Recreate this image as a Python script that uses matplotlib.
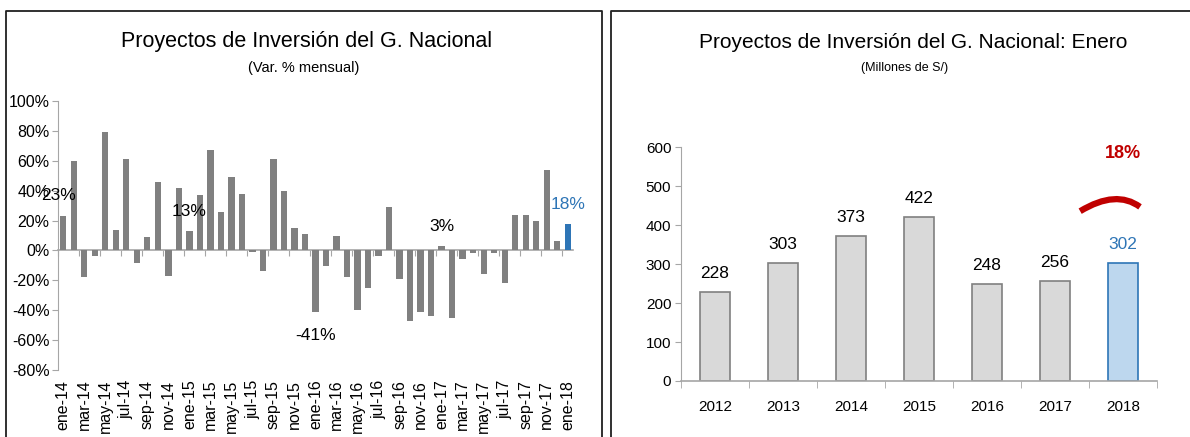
import matplotlib
matplotlib.use("Agg")
import matplotlib.pyplot as plt
from matplotlib.patches import PathPatch
from matplotlib.path import Path
from matplotlib.lines import Line2D
import numpy as np

plt.rcParams['font.family'] = ['Liberation Sans Narrow', 'Liberation Sans', 'DejaVu Sans']

# ---------------- data ----------------
months = ["ene", "feb", "mar", "abr", "may", "jun", "jul", "ago", "sep", "oct", "nov", "dic"]
years_m = ["14", "15", "16", "17"]
month_labels = [f"{m}-{y}" for y in years_m for m in months] + ["ene-18"]

var_mensual = [23, 60, -18, -4, 79, 14, 61, -8.5, 9, 46, -17, 42,
               13, 37, 67, 26, 49, 38, -1, -14, 61, 40, 15, 11,
               -41, -10.5, 10, -18, -40, -25, -3.5, 29, -19, -47.5, -41, -44,
               3, -45, -6, -2, -16, -1.5, -22, 24, 24, 20, 54, 6,
               18]
highlight_idx = [0, 12, 24, 36, 48]
highlight_txt = ["23%", "13%", "-41%", "3%", "18%"]
highlight_y = [37, 26, -57, 16, 31]

years = ["2012", "2013", "2014", "2015", "2016", "2017", "2018"]
enero = [228, 303, 373, 422, 248, 256, 302]

GRAY = "#808080"
BLUE = "#2E75B6"
AXC = "#A6A6A6"

fig = plt.figure(figsize=(11.90, 4.37), dpi=100)
W, H = 1190, 437

def fx(px):
    return px / W

def fy(py):
    return 1 - py / H

# panel borders
fig.add_artist(Line2D([fx(6), fx(6), fx(602), fx(602)], [0, fy(11), fy(11), 0],
                      color="#202020", lw=1.3, transform=fig.transFigure))
fig.add_artist(Line2D([fx(611), fx(611), 1.0], [0, fy(11), fy(11)],
                      color="#202020", lw=1.3, transform=fig.transFigure))

# ---------------- left chart ----------------
ax1 = fig.add_axes([fx(58), fy(370), fx(573 - 58), (370 - 101) / H])
x = np.arange(len(var_mensual))
colors = [GRAY] * (len(var_mensual) - 1) + [BLUE]
ax1.bar(x, var_mensual, width=0.6, color=colors)
ax1.set_xlim(-0.5, len(var_mensual) - 0.5)
ax1.set_ylim(-80, 100)
ax1.set_yticks(np.arange(-80, 101, 20))
ax1.set_yticklabels([f"{v}%" for v in range(-80, 101, 20)], fontsize=11.5)
ax1.tick_params(axis='y', direction='out', length=4, color=AXC, pad=2)
ax1.set_xticks(x[::2])
ax1.set_xticklabels(month_labels[::2], rotation=90, fontsize=11.5)
ax1.tick_params(axis='x', length=0, pad=7)
for s in ["top", "right", "bottom"]:
    ax1.spines[s].set_visible(False)
ax1.spines["left"].set_color(AXC)
sec = ax1.secondary_xaxis(80 / 180)
sec.set_xticks(np.arange(-0.5, len(var_mensual), 2))
sec.set_xticklabels([])
sec.tick_params(axis='x', direction='out', length=4, color=AXC)
sec.spines["bottom"].set_color(AXC)
sec.spines["bottom"].set_linewidth(1.2)

for i, t, yy in zip(highlight_idx, highlight_txt, highlight_y):
    xx = i if i > 0 else -0.5
    c = BLUE if i == len(var_mensual) - 1 else "black"
    ax1.text(xx, yy, t, ha="center", va="center", fontsize=12.5, color=c)

fig.text(fx(307), fy(42), "Proyectos de Inversión del G. Nacional",
         ha="center", va="center", fontsize=15.5)
fig.text(fx(304), fy(68), "(Var. % mensual)", ha="center", va="center", fontsize=10.5)

# ---------------- right chart ----------------
ax2 = fig.add_axes([fx(681), fy(381), fx(1157 - 681), (381 - 147.3) / H])
xr = np.arange(len(years))
fc = ["#D9D9D9"] * (len(years) - 1) + ["#BDD7EE"]
ec = [GRAY] * (len(years) - 1) + [BLUE]
ax2.bar(xr, enero, width=0.43, color=fc, edgecolor=ec, linewidth=1.2)
ax2.set_xlim(-0.5, len(years) - 0.5)
ax2.set_ylim(0, 600)
ax2.set_yticks(np.arange(0, 601, 100))
ax2.tick_params(axis='y', labelsize=11, direction='out', length=4, color=AXC, pad=3)
ax2.set_xticks(xr)
ax2.set_xticklabels(years, fontsize=11)
ax2.tick_params(axis='x', length=0, pad=14)
ax2.set_xticks(np.arange(-0.5, len(years), 1), minor=True)
ax2.tick_params(axis='x', which='minor', direction='out', length=5, color=AXC)
for s in ["top", "right"]:
    ax2.spines[s].set_visible(False)
ax2.spines["left"].set_color(AXC)
ax2.spines["bottom"].set_color(AXC)
ax2.spines["bottom"].set_linewidth(1.2)

for i, v in enumerate(enero):
    c = BLUE if i == len(enero) - 1 else "black"
    ax2.annotate(f"{v}", (i, v), xytext=(0, 8), textcoords="offset points",
                 ha="center", va="bottom", fontsize=12.5, color=c)

# growth arc and label
p0 = (len(years) - 2 + 0.37, enero[-2] + 180)
p1 = (len(years) - 2 + 0.9, enero[-2] + 236)
p2 = (len(years) - 1 + 0.25, enero[-2] + 191)
arc = PathPatch(Path([p0, p1, p2], [Path.MOVETO, Path.CURVE3, Path.CURVE3]),
                fill=False, edgecolor="#C00000", lw=4.5, capstyle="butt")
ax2.add_patch(arc)
ax2.text(len(years) - 1, 585, "18%", ha="center", va="center", fontsize=13,
         fontweight="bold", color="#C00000", clip_on=False)

fig.text(fx(913), fy(42), "Proyectos de Inversión del G. Nacional: Enero",
         ha="center", va="center", fontsize=15)
fig.text(fx(905), fy(68), "(Millones de S/)", ha="center", va="center", fontsize=9)

fig.savefig("out.png", dpi=100)
